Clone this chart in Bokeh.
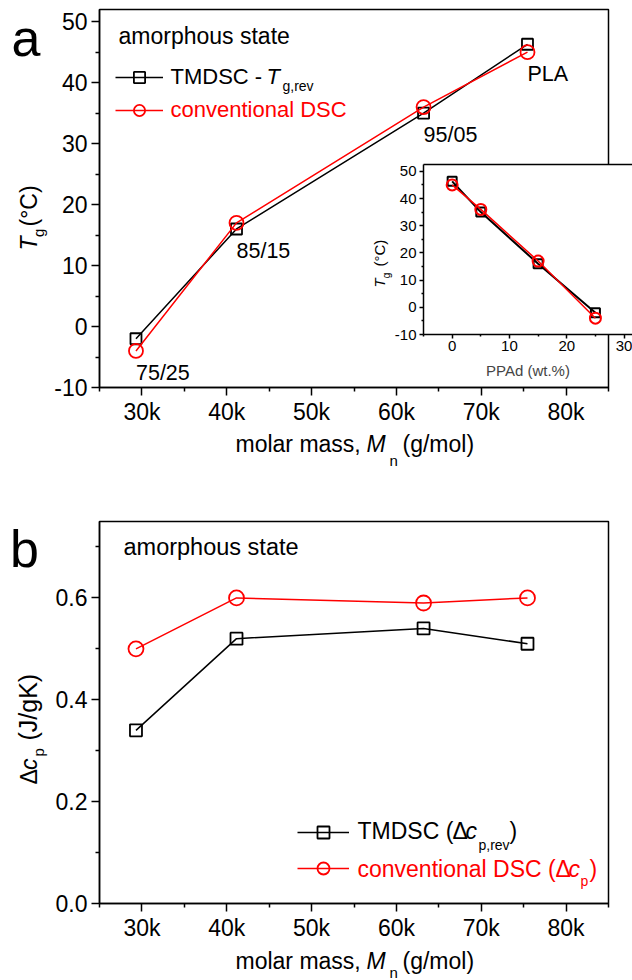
import math
import numpy as np
from bokeh.plotting import figure
from bokeh.layouts import column
from bokeh.models import (ColumnDataSource, Label, Legend, LegendItem, LinearAxis,
                          FixedTicker, GridBox)
from bokeh.embed import file_html
from bokeh.resources import INLINE
from bokeh.core.properties import value

FONT = "Liberation Sans"
RED = "#ff0000"
PAGE_W, PAGE_H = 632, 980

# ---------------- data ----------------
blend = ["75/25", "85/15", "95/05", "PLA"]
mn = [29300, 41150, 63200, 75450]            # molar mass Mn (g/mol)
ppad = [25, 15, 5, 0]                         # PPAd content (wt.%)
tg_tmdsc = [-2.0, 16.0, 35.0, 46.3]           # Tg,rev from TMDSC (degC)
tg_dsc = [-4.0, 17.0, 36.0, 45.0]             # Tg from conventional DSC (degC)
dcp_tmdsc = [0.34, 0.52, 0.54, 0.51]          # delta cp,rev (J/gK)
dcp_dsc = [0.50, 0.60, 0.59, 0.60]            # delta cp (J/gK)

mn_ticks = [30000, 40000, 50000, 60000, 70000, 80000]
mn_tick_labels = ["30k", "40k", "50k", "60k", "70k", "80k"]
mn_minor = [25000, 35000, 45000, 55000, 65000, 75000, 85000]
tg_ticks = [-10, 0, 10, 20, 30, 40, 50]
tg_tick_labels = ["-10", "0", "10", "20", "30", "40", "50"]
tg_minor = [-5, 5, 15, 25, 35, 45]
dcp_ticks = [0.0, 0.2, 0.4, 0.6]
dcp_tick_labels = ["0.0", "0.2", "0.4", "0.6"]
dcp_minor = [0.1, 0.3, 0.5, 0.7]
ppad_ticks = [0, 10, 20, 30]
ppad_tick_labels = ["0", "10", "20", "30"]
ppad_minor = [-5, 5, 15, 25]


def make_fig(xr, yr, ml, mr, mt, mb, **size):
    p = figure(x_range=xr, y_range=yr, output_backend="svg",
               toolbar_location=None, min_border_left=ml, min_border_right=mr,
               min_border_top=mt, min_border_bottom=mb, **size)
    p.grid.visible = False
    p.outline_line_color = "black"
    p.outline_line_width = 1.5
    p.outline_line_alpha = 1.0
    p.background_fill_color = "white"
    p.border_fill_color = "white"
    return p


def style_axis(ax, ticks, labels, minor, size, t_out, m_out, standoff, lw=1.5):
    ax.ticker = FixedTicker(ticks=ticks, minor_ticks=minor)
    ax.major_label_overrides = {t: s for t, s in zip(ticks, labels)}
    ax.major_label_text_font = FONT
    ax.major_label_text_font_size = f"{size}px"
    ax.major_label_text_color = "black"
    ax.major_tick_out = t_out
    ax.major_tick_in = 0
    ax.minor_tick_out = m_out
    ax.minor_tick_in = 0
    ax.major_label_standoff = standoff
    ax.axis_line_width = lw
    ax.major_tick_line_width = lw
    ax.minor_tick_line_width = lw
    ax.axis_line_color = "black"
    ax.major_tick_line_color = "black"
    ax.minor_tick_line_color = "black"


# ---------------- panel a ----------------
pa = make_fig((25000, 85000), (-10, 52), 99, 24, 9, 83, width=632, height=470)
style_axis(pa.xaxis[0], mn_ticks, mn_tick_labels, mn_minor, 23, 8, 4, 3)
style_axis(pa.yaxis[0], tg_ticks, tg_tick_labels, tg_minor, 23, 8, 4, 4)

la1 = pa.line(mn, tg_tmdsc, line_color="black", line_width=1.5)
sa1 = pa.scatter(mn, tg_tmdsc, marker="square", size=11, fill_color=None,
                 line_color="black", line_width=1.8)
la2 = pa.line(mn, tg_dsc, line_color=RED, line_width=1.5)
sa2 = pa.scatter(mn, tg_dsc, marker="circle", size=14, fill_color=None,
                 line_color=RED, line_width=1.8)

src_lbl = ColumnDataSource(dict(x=mn, y=np.minimum(tg_tmdsc, tg_dsc), t=blend))
pa.text(x="x", y="y", text="t", source=src_lbl, text_font=value(FONT),
        text_font_size="21.5px", text_color="black", text_align="left",
        text_baseline="alphabetic", y_offset=22)

leg_a = Legend(items=[LegendItem(label=value(" "), renderers=[la1, sa1]),
                      LegendItem(label=value(" "), renderers=[la2, sa2])],
               location=(16, 263), glyph_width=48, glyph_height=28, spacing=5,
               padding=0, margin=0, label_text_font_size="1px", label_height=28,
               label_standoff=0, label_width=1, border_line_color=None,
               background_fill_alpha=0)
pa.add_layout(leg_a)

# ---------------- inset ----------------
pin = make_fig((-5, 31.47), (-10, 52.5), 57, 0, 14, 50,
               frame_width=209, frame_height=170)
pin.outline_line_color = None
pin.border_fill_alpha = 0
style_axis(pin.xaxis[0], ppad_ticks, ppad_tick_labels, ppad_minor, 15, 4, 2, 2)
style_axis(pin.yaxis[0], tg_ticks, tg_tick_labels, tg_minor, 15, 4, 2, 3)
pin.xaxis[0].axis_label = "PPAd (wt.%)"
pin.xaxis[0].axis_label_text_font = FONT
pin.xaxis[0].axis_label_text_font_size = "15px"
pin.xaxis[0].axis_label_text_font_style = "normal"
pin.xaxis[0].axis_label_standoff = 8
top_ax = LinearAxis(ticker=FixedTicker(ticks=[]), major_tick_line_color=None,
                    minor_tick_line_color=None, major_label_text_font_size="0px",
                    axis_line_width=1.5, axis_line_color="black")
pin.add_layout(top_ax, "above")

pin.line(ppad, tg_tmdsc, line_color="black", line_width=2)
pin.scatter(ppad, tg_tmdsc, marker="square", size=9, fill_color=None,
            line_color="black", line_width=2)
pin.line(ppad, tg_dsc, line_color=RED, line_width=1.5)
pin.scatter(ppad, tg_dsc, marker="circle", size=11, fill_color=None,
            line_color=RED, line_width=2)

# ---------------- panel b ----------------
pb = make_fig((25000, 85000), (0, 0.75), 99, 24, 51, 77, width=632, height=510)
style_axis(pb.xaxis[0], mn_ticks, mn_tick_labels, mn_minor, 23, 8, 4, 3)
style_axis(pb.yaxis[0], dcp_ticks, dcp_tick_labels, dcp_minor, 23, 8, 4, 4)

lb1 = pb.line(mn, dcp_tmdsc, line_color="black", line_width=1.5)
sb1 = pb.scatter(mn, dcp_tmdsc, marker="square", size=12, fill_color=None,
                 line_color="black", line_width=1.8)
lb2 = pb.line(mn, dcp_dsc, line_color=RED, line_width=1.5)
sb2 = pb.scatter(mn, dcp_dsc, marker="circle", size=15, fill_color=None,
                 line_color=RED, line_width=1.8)

leg_b = Legend(items=[LegendItem(label=value(" "), renderers=[lb1, sb1]),
                      LegendItem(label=value(" "), renderers=[lb2, sb2])],
               location=(198, 20), glyph_width=52, glyph_height=30, spacing=6,
               padding=0, margin=0, label_text_font_size="1px", label_height=30,
               label_standoff=0, label_width=1, border_line_color=None,
               background_fill_alpha=0)
pb.add_layout(leg_b)

# ---------------- transparent text overlay covering the whole page ----------------
ov = figure(width=PAGE_W, height=PAGE_H, x_range=(0, PAGE_W), y_range=(0, PAGE_H),
            output_backend="svg", toolbar_location=None, x_axis_type=None,
            y_axis_type=None, min_border=0, min_border_left=0, min_border_right=0,
            min_border_top=0, min_border_bottom=0)
ov.outline_line_color = None
ov.background_fill_alpha = 0
ov.border_fill_alpha = 0

BASE_SHIFT = 0.33  # measured offset of the rendered baseline, in em


def lab(text, x, y, size, style="normal", color="black", angle=0.0):
    """Rich-text piece whose baseline starts at page pixel (x, y)."""
    d = BASE_SHIFT * size
    if angle:
        x -= d
    else:
        y -= d
    ov.add_layout(Label(x=x, y=PAGE_H - y, x_units="screen", y_units="screen",
                        text=text, text_font=FONT, text_font_size=f"{size}px",
                        text_font_style=style, text_color=color, text_align="left",
                        text_baseline="alphabetic", angle=angle))


R = math.pi / 2
# panel a
lab("a", 11, 55, 52)
lab("amorphous state", 118, 43.5, 23)
lab("TMDSC - ", 170, 83.5, 22)
lab("T", 266, 83.5, 22, "italic")
lab("g,rev", 282, 90, 14)
lab("conventional DSC", 170, 116.5, 22, color=RED)
lab("molar mass, ", 235, 451, 23)
lab("M", 366, 451, 23, "italic")
lab("n", 389, 465, 15)
lab("(g/mol)", 402, 451, 23)
lab("T", 36, 250, 23, "italic", angle=R)
lab("g", 43, 236.5, 15, angle=R)
lab("(°C)", 36, 226, 23, angle=R)
# inset
lab("T", 384, 287, 15, "italic", angle=R)
lab("g", 389, 277.8, 10, angle=R)
lab("(°C)", 384, 266, 15, angle=R)
# panel b
lab("b", 9.5, 566, 52)
lab("amorphous state", 123, 554, 23.5)
lab("TMDSC (", 357, 838, 23)
lab("Δ", 452, 838, 23)
lab("c", 465, 838, 23, "italic")
lab("p,rev", 478, 849, 14)
lab(")", 509, 838, 23)
lab("conventional DSC (", 357, 876, 23, color=RED)
lab("Δ", 555, 876, 23, color=RED)
lab("c", 568, 876, 23, "italic", color=RED)
lab("p", 580, 885, 14, color=RED)
lab(")", 589, 876, 23, color=RED)
lab("molar mass, ", 235, 968, 23)
lab("M", 366, 968, 23, "italic")
lab("n", 389, 977, 15)
lab("(g/mol)", 402, 968, 23)
lab("Δ", 36, 784, 23, angle=R)
lab("c", 36, 769.5, 23, "italic", angle=R)
lab("p", 43, 756, 15, angle=R)
lab("(J/gK)", 36, 740, 25, angle=R)

# ---------------- layout (inset and text overlay share grid cells) ----------------
# each figure is wrapped in its own column so that the grid does not align frames
layout = GridBox(children=[(column(pa), 0, 0, 3, 2), (column(pin), 1, 1, 1, 1),
                           (column(pb), 3, 0, 1, 2), (column(ov), 0, 0, 4, 2)],
                 rows=["150px", "234px", "86px", "510px"],
                 cols=["366px", "266px"], spacing=0)

open("out.html", "w").write(file_html(layout, INLINE))
